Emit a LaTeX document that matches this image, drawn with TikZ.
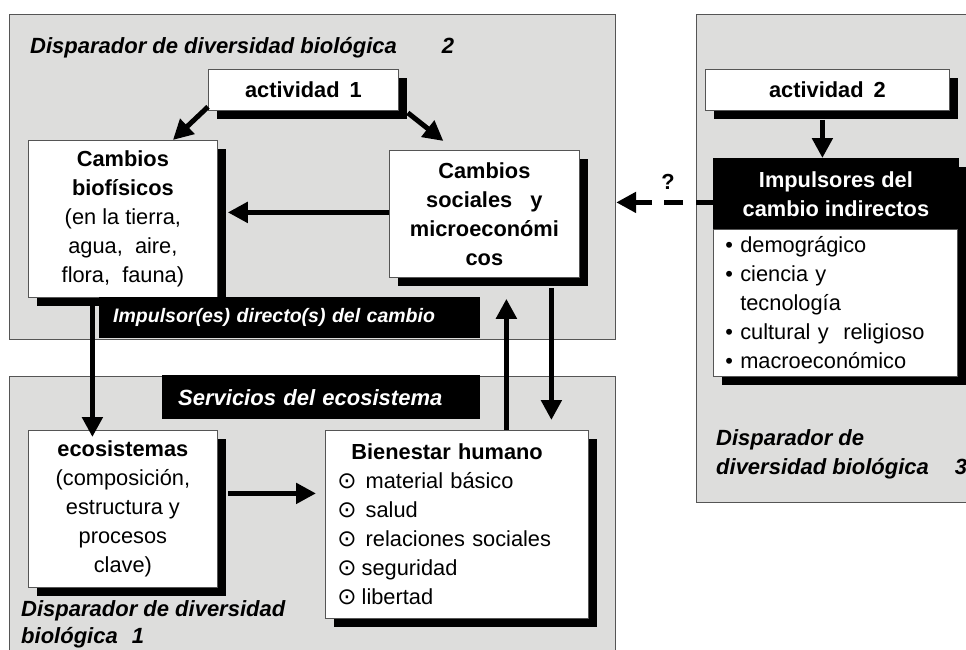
\documentclass[tikz,border=0pt]{standalone}
\usepackage{fontspec}
\setmainfont{Liberation Sans}
\newfontfamily\symfont{DejaVu Sans}
\usetikzlibrary{arrows.meta,calc,shadows}
\definecolor{panelgray}{RGB}{221,221,220}
\definecolor{edgegray}{RGB}{85,85,85}
\newcommand\boxfont{\fontsize{21.8}{29}\selectfont}
\newcommand\bienmark{{\symfont\fontsize{23}{29}\selectfont ⊙}}

\begin{document}
\begin{tikzpicture}[x=1pt,y=-1pt,
	panel/.style={draw=edgegray,line width=1.2pt,fill=panelgray,anchor=north west,inner sep=0pt},
	card/.style={draw=edgegray,line width=0.8pt,fill=white,anchor=north west,inner sep=0pt,align=center,font=\boxfont,
		drop shadow={shadow xshift=9pt,shadow yshift=-9pt,fill=black,opacity=1}},
	bar/.style={fill=black,text=white,anchor=north west,inner ysep=0pt,align=left,font=\bfseries\itshape\fontsize{19.5}{24}\selectfont},
	title/.style={inner sep=0pt,align=left,font=\bfseries\itshape\fontsize{22}{29}\selectfont},
	arr/.style={line width=5pt,-{Triangle[length=20pt,width=20pt]}}]
					\useasboundingbox (0,0) rectangle (966,649);
					
					\node[panel, minimum width=606pt, minimum height=325pt] (g2) at (9,14) {}; % Panels.
					\node[panel, minimum width=606pt, minimum height=295pt] (g1) at (9,376) {};
					\node[panel, minimum width=290pt, minimum height=488pt] (g3) at (696,14) {};
					
					\node[title, anchor=base west] (t2) at (30,53) {Disparador de diversidad biológica\hspace*{45pt}2};
					\node[title, anchor=north west, font=\bfseries\itshape\fontsize{22}{27.5}\selectfont] (t1) at (21,600) {Disparador de diversidad\\biológica\hspace*{14pt}1};
					\node[title, anchor=north west] (t3) at (716,429) {Disparador de\\diversidad biológica\hspace*{26pt}3};
					
					\node[card, minimum width=190pt, minimum height=41pt, font=\boxfont\bfseries] (act1) at (208,69) {actividad\hspace*{10pt}1};
					\node[card, minimum width=189pt, minimum height=157pt] (bio) at (28,140) {\textbf{Cambios}\\\textbf{biofísicos}\\(en la tierra,\\agua,\ \ aire,\\flora,\ \ fauna)};
					\node[card, minimum width=190pt, minimum height=127pt, font=\boxfont\bfseries] (soc) at (389,150) {Cambios\\sociales\ \ \ y\\microeconómi\hspace*{10pt}\\cos};
					\node[bar, minimum height=41pt, text width=353pt, inner xsep=14pt] (dir) at (99,297) {Impulsor(es) directo(s) del cambio};
					
					\node[bar, minimum height=44pt, text width=286pt, inner xsep=16pt, font=\bfseries\itshape\fontsize{22}{24}\selectfont] (serv) at (162,375) {Servicios del ecosistema};
					\node[card, minimum width=189pt, minimum height=157pt] (eco) at (28,430) {\textbf{ecosistemas}\\(composición,\\estructura y\\procesos\\clave)};
					\node[card, minimum height=188pt, text width=239pt, inner xsep=12pt, align=left] (bien) at (325,430) {\hspace*{14pt}\textbf{Bienestar humano}\\\bienmark\hspace{9pt}material\ básico\\\bienmark\hspace{9pt}salud\\\bienmark\hspace{9pt}relaciones\ sociales\\\bienmark\hspace{5pt}seguridad\\\bienmark\hspace{5pt}libertad};
					
					\node[card, minimum width=244pt, minimum height=41pt, font=\boxfont\bfseries] (act2) at (705,69) {actividad\hspace*{10pt}2};
					\node[card, draw=black, fill=black, text=white, minimum width=245pt, minimum height=71pt, font=\boxfont\bfseries] (imp) at (713,158) {Impulsores del\\cambio indirectos};
					\node[card, minimum height=147pt, text width=220pt, inner xsep=12pt, align=left] (lst) at (713,229) {• demográgico\\• ciencia y\\\phantom{• }tecnología\\• cultural y\ \ religioso\\• macroeconómico};
					
					\draw[arr] ($(act1.south west)+(0,-4)$) -- ($(bio.north)+(50,0)$); % Arrows.
					\draw[arr] ($(act1.south east)+(9,2)$) -- ($(soc.north)+(-41,-9)$);
					\draw[arr] ($(soc.west)+(0,-1.5)$) -- ($(soc.west -| bio.east)+(10,-1.5)$);
					\draw[arr] ($(bio.south)+(-30.5,0)$) -- ($(eco.north)+(-30.5,7)$);
					\draw[arr] ($(eco.east)+(10,-15.5)$) -- ($(bien.west |- eco.east)+(-9,-15.5)$);
					\draw[arr] ($(bien.north)+(49.5,0)$) -- ($(soc.south)+(22,21)$);
					\draw[arr] ($(soc.south)+(67,10)$) -- ($(bien.north)+(94.5,-10)$);
					\draw[arr] ($(act2.south)+(-5,9)$) -- ($(imp.north)+(-13.5,0)$);
					\draw[arr, dash pattern=on 17pt off 13pt on 19pt off 12pt] ($(imp.west)+(0,8.5)$) -- ($(imp.west -| g2.east)+(0,8.5)$);
					\node[font=\boxfont\bfseries] (q) at (668,182) {?};
				\end{tikzpicture}
\end{document}
